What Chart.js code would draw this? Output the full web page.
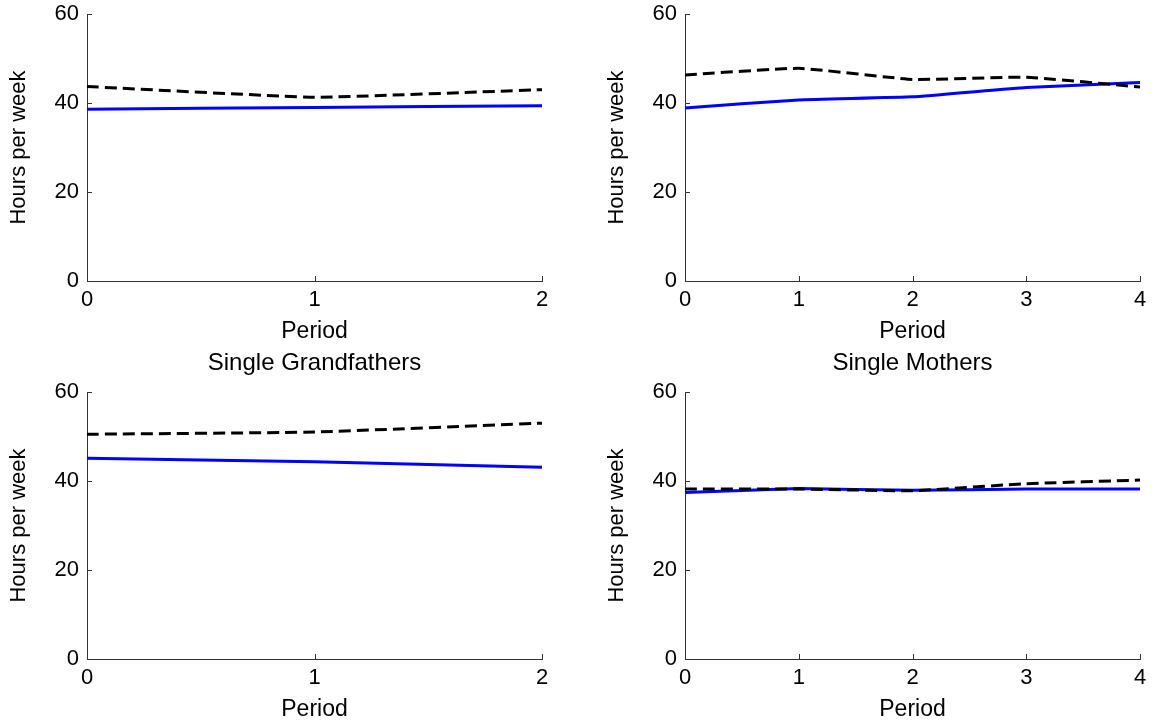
<html lang="en">
<head>
<meta charset="UTF-8">
<title>Hours per week</title>
<script src="https://cdn.jsdelivr.net/npm/chart.js"></script>
<style>
  html, body { margin: 0; padding: 0; background: #fff; overflow: hidden; }
  .panel { position: absolute; }
</style>
</head>
<body>
<div class="panel" style="left:0px; top:0px; width:580px; height:350px;"><canvas id="c1"></canvas></div>
<div class="panel" style="left:598px; top:0px; width:555px; height:350px;"><canvas id="c2"></canvas></div>
<div class="panel" style="left:0px; top:345px; width:580px; height:378px;"><canvas id="c3"></canvas></div>
<div class="panel" style="left:598px; top:345px; width:555px; height:378px;"><canvas id="c4"></canvas></div>
<script>
// periods
const periods3 = ['0', '1', '2'];
const periods5 = ['0', '1', '2', '3', '4'];
const yTicks = [0, 20, 40, 60];

// top left
const tlSolid = [38.6, 39.0, 39.4];
const tlDashed = [43.7, 41.3, 43.0];
// top right
const trSolid = [38.9, 40.7, 41.4, 43.5, 44.6];
const trDashed = [46.3, 47.8, 45.3, 45.8, 43.6];
// Single Grandfathers
const sgSolid = [45.1, 44.3, 43.1];
const sgDashed = [50.5, 51.0, 53.0];
// Single Mothers
const smSolid = [37.4, 38.3, 37.9, 38.2, 38.2];
const smDashed = [38.2, 38.2, 37.8, 39.4, 40.2];

const FONT = "'Liberation Sans', Arial, sans-serif";

// small inward tick marks like matlab axes
const inwardTicks = {
  id: 'inwardTicks',
  afterDraw(chart) {
    const ctx = chart.ctx;
    const xs = chart.scales.x, ys = chart.scales.y;
    const a = chart.chartArea;
    ctx.save();
    ctx.strokeStyle = '#333';
    ctx.lineWidth = 1;
    ctx.beginPath();
    xs.ticks.forEach((t, i) => {
      const px = Math.round(xs.getPixelForTick(i)) + 0.5;
      ctx.moveTo(px, a.bottom);
      ctx.lineTo(px, a.bottom - 5);
    });
    yTicks.forEach(v => {
      const py = Math.round(ys.getPixelForValue(v)) + 0.5;
      ctx.moveTo(a.left, py);
      ctx.lineTo(a.left + 5, py);
    });
    ctx.stroke();
    ctx.restore();
  }
};

function drawPanel(tag, labels, solid, dashed, title, xHeight, padBottomTitle, padRight) {
  const ctx = document.getElementById(tag);
  const data = {
    labels: labels,
    datasets: [
      {
        data: dashed,
        borderColor: '#000',
        borderWidth: 3,
        borderDash: [12, 6],
        pointRadius: 0,
        tension: 0.12,
        clip: false
      },
      {
        data: solid,
        borderColor: '#0000ff',
        borderWidth: 3,
        pointRadius: 0,
        tension: 0.12,
        clip: false
      }
    ]
  };
  const scales = {
    x: {
      offset: false,
      grid: { display: false, drawTicks: false },
      border: { display: true, color: '#333', width: 1 },
      ticks: { color: '#000', font: { family: FONT, size: 22 }, padding: 6, maxRotation: 0, autoSkip: false },
      title: { display: true, text: 'Period', color: '#000', font: { family: FONT, size: 23 }, padding: { top: 0, bottom: padBottomTitle } },
      afterFit: (s) => { s.height = xHeight; s.paddingLeft = 0; s.paddingRight = 0; }
    },
    y: {
      min: 0,
      max: 60,
      afterBuildTicks: (s) => { s.ticks = yTicks.map(v => ({ value: v })); },
      grid: { display: false, drawTicks: false },
      border: { display: true, color: '#333', width: 1 },
      ticks: { color: '#000', font: { family: FONT, size: 22 }, padding: 8 },
      title: { display: true, text: 'Hours per week', color: '#000', font: { family: FONT, size: 22 }, padding: { top: 6, bottom: 0 } },
      afterFit: (s) => { s.width = 87; s.paddingTop = 0; s.paddingBottom = 0; }
    }
  };
  if (title) {
    // title centred over the axes, like the original
    scales.top = {
      type: 'category',
      position: 'top',
      labels: labels,
      grid: { display: false, drawTicks: false },
      border: { display: false },
      ticks: { display: false },
      title: { display: true, text: title, color: '#000', font: { family: FONT, size: 24 }, padding: { top: 4, bottom: 0 } },
      afterFit: (s) => { s.height = 47; s.paddingLeft = 0; s.paddingRight = 0; }
    };
  }
  const options = {
    responsive: true,
    maintainAspectRatio: false,
    animation: false,
    layout: { padding: { left: 0, top: title ? 0 : 14, right: padRight, bottom: 0 } },
    plugins: {
      legend: { display: false },
      tooltip: { enabled: false }
    },
    scales: scales
  };
  new Chart(ctx, { type: 'line', data: data, options: options, plugins: [inwardTicks] });
}

drawPanel('c1', periods3, tlSolid, tlDashed, '', 69, 5, 38);
drawPanel('c2', periods5, trSolid, trDashed, '', 69, 5, 13);
drawPanel('c3', periods3, sgSolid, sgDashed, 'Single Grandfathers', 64, 0, 38);
drawPanel('c4', periods5, smSolid, smDashed, 'Single Mothers', 64, 0, 13);
</script>
</body>
</html>
